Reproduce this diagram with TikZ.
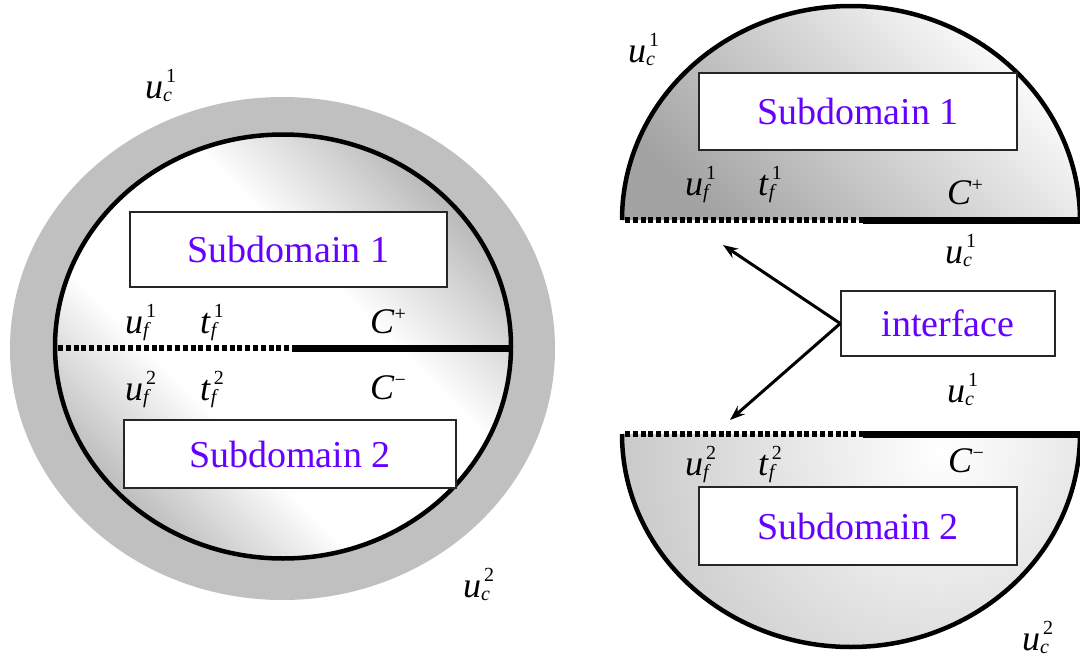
\documentclass[tikz,border=0pt]{standalone}
\usepackage{fontspec}
\setmainfont{Liberation Serif}
\usetikzlibrary{arrows.meta}
\definecolor{subviolet}{RGB}{102,0,255}
\definecolor{ringgray}{RGB}{192,192,192}
\pgfdeclareverticalshading{diagband}{100bp}{color(0bp)=(black!46); color(14bp)=(black!46); color(39bp)=(white); color(59bp)=(white); color(86bp)=(black!46); color(100bp)=(black!46)}
\newcommand\symlab[3]{\textit{#1}\rlap{\kern3pt\raisebox{16pt}{\fontsize{20}{20}\selectfont #2}}\raisebox{-3pt}{\fontsize{20}{20}\selectfont\itshape #3}}
\newcommand\clab[1]{\textit{C}\raisebox{13pt}{\fontsize{20}{20}\selectfont #1}}
\tikzset{
  lab/.style={anchor=base west, inner sep=0pt, font=\fontsize{36}{36}\selectfont},
  subbox/.style={draw=black!85, line width=1.5pt, fill=white, inner sep=0pt, text=subviolet, font=\fontsize{38}{38}\selectfont},
  rim/.style={line width=4.5pt},
  cut/.style={line width=7pt},
  dots/.style={line width=5.5pt, dash pattern=on 5pt off 2.8pt},
  ptr/.style={line width=3pt, -{Stealth[length=15pt, width=11pt]}}
}
\begin{document}
\begin{tikzpicture}[x=1pt,y=-1pt]
\useasboundingbox (0,0) rectangle (1080,656);
% ---------- left figure ----------
\fill[ringgray] (282.5,348.5) ellipse [x radius=272.5, y radius=251.5];
\shade[shading=diagband, shading angle=-45] (283,346.5) ellipse [x radius=228, y radius=212];
\draw[rim] (283,346.5) ellipse [x radius=228, y radius=212];
\coordinate (Lw) at (58,348);
\coordinate (Lm) at (292,348);
\coordinate (Le) at (511,348);
\draw[dots] (Lw) -- (Lm);
\draw[cut] (Lm) -- (Le);
\node[subbox, minimum width=317pt, minimum height=75pt] (Ls1) at (288.5,249.5) {Subdomain 1};
\node[subbox, minimum width=332pt, minimum height=68pt] (Ls2) at (290,454) {Subdomain 2};
\node[lab] (Luc1) at (145,98) {\symlab{u}{1}{c}};
\node[lab] (Luc2) at (463,597) {\symlab{u}{2}{c}};
\node[lab] (Luf1) at (125,333) {\symlab{u}{1}{f}};
\node[lab] (Ltf1) at (200,333) {\symlab{t}{1}{f}};
\node[lab] (LCp) at (370,333) {\clab{+}};
\node[lab] (Luf2) at (125,400) {\symlab{u}{2}{f}};
\node[lab] (Ltf2) at (200,400) {\symlab{t}{2}{f}};
\node[lab] (LCm) at (370,399) {\clab{−}};
% ---------- right top half ----------
\shade[top color=white, bottom color=black!36, shading angle=-45] (622,220) arc[start angle=180, end angle=360, x radius=229, y radius=214] -- cycle;
\draw[rim] (622,220) arc[start angle=180, end angle=360, x radius=229, y radius=214];
\coordinate (Tw) at (625,220);
\coordinate (Tm) at (863,220);
\coordinate (Te) at (1080,220);
\draw[dots] (Tw) -- (Tm);
\draw[cut] (Tm) -- (Te);
\node[subbox, minimum width=318pt, minimum height=77pt] (Rs1) at (858,111.5) {Subdomain 1};
% ---------- right bottom half ----------
\begin{scope}
\clip (622,434) arc[start angle=180, end angle=0, x radius=229, y radius=213] -- cycle;
\shade[inner color=white, outer color=black!50] (940,450) circle [radius=760];
\end{scope}
\draw[rim] (622,434) arc[start angle=180, end angle=0, x radius=229, y radius=213];
\coordinate (Bw) at (625,434);
\coordinate (Bm) at (863,434);
\coordinate (Be) at (1080,434);
\draw[dots] (Bw) -- (Bm);
\draw[cut] (Bm) -- (Be);
\node[subbox, minimum width=318pt, minimum height=78pt] (Rs2) at (858,526) {Subdomain 2};
% ---------- interface ----------
\node[subbox, minimum width=214pt, minimum height=65pt] (If) at (948,323.5) {interface};
\coordinate (Atop) at (723,245);
\coordinate (Abot) at (730,420);
\draw[ptr] (If.west) -- (Atop);
\draw[ptr] (If.west) -- (Abot);
% ---------- right labels ----------
\node[lab] (Ruc1a) at (628,62) {\symlab{u}{1}{c}};
\node[lab] (Ruf1) at (685,195) {\symlab{u}{1}{f}};
\node[lab] (Rtf1) at (758,195) {\symlab{t}{1}{f}};
\node[lab] (RCp) at (947,204) {\clab{+}};
\node[lab] (Ruc1b) at (945,263) {\symlab{u}{1}{c}};
\node[lab] (Ruc1c) at (947,402) {\symlab{u}{1}{c}};
\node[lab] (Ruf2) at (685,475) {\symlab{u}{2}{f}};
\node[lab] (Rtf2) at (758,475) {\symlab{t}{2}{f}};
\node[lab] (RCm) at (948,472) {\clab{−}};
\node[lab] (Ruc2) at (1022,650) {\symlab{u}{2}{c}};
\end{tikzpicture}
\end{document}
